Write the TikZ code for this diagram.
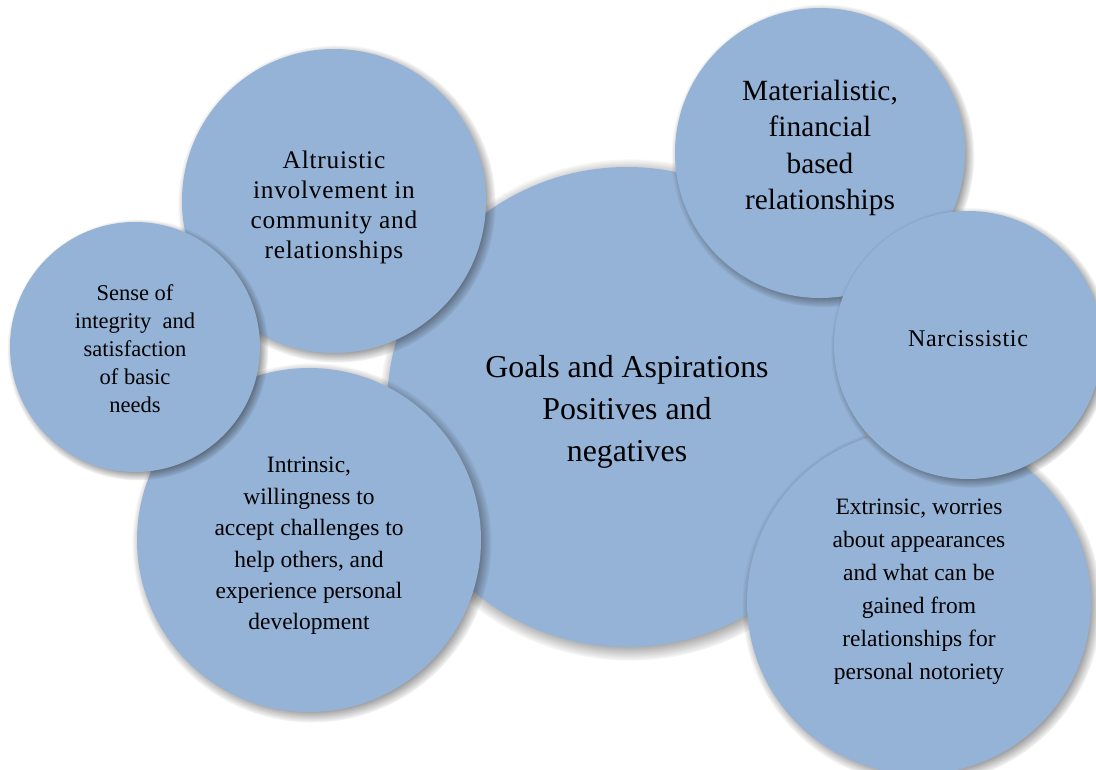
\documentclass[tikz,border=0pt]{standalone}
\usepackage{fontspec}
\setmainfont{Liberation Serif}
\usetikzlibrary{shadows}
\definecolor{bubbleblue}{RGB}{149,179,215}
\tikzset{
  bubble/.style={circle, fill=bubbleblue, inner sep=0pt, minimum size=#1*1.5pt,
    circular drop shadow={shadow xshift=2pt, shadow yshift=-2pt, shadow scale=1.045, opacity=0.95, fill=black!85}},
  bubbletext/.style={align=center, text=black, inner sep=0pt},
  bigtext/.style={bubbletext, font=\fontsize{23.9}{31.5}\selectfont},
  midtext/.style={bubbletext, font=\fontsize{22}{27.4}\selectfont},
  smalltext/.style={bubbletext, font=\fontsize{17.6}{#1}\selectfont},
}
\begin{document}
\begin{tikzpicture}[x=0.75pt, y=-0.75pt]
  \useasboundingbox (0,0) rectangle (1096,769);
  \clip (0,0) rectangle (1096,769);

  % centre bubble
  \node[bubble=240, label={[bigtext, yshift=-3.75pt]center:Goals and Aspirations\\Positives and\\negatives}] (goals) at (627,407) {};

  % right-hand bubbles
  \node[bubble=145, label={[midtext, yshift=3.75pt]center:Materialistic,\\financial\\based\\relationships}] (materialistic) at (820,153) {};
  \node[bubble=172, label={[smalltext=24.75, yshift=7.5pt]center:Extrinsic, worries\\about appearances\\and what can be\\gained from\\relationships for\\personal notoriety}] (extrinsic) at (919,602) {};
  \node[bubble=134, label={[bubbletext, font=\fontsize{18}{22}\selectfont\addfontfeature{LetterSpace=3}, yshift=5pt]center:Narcissistic}] (narcissistic) at (968,345) {};

  % left-hand bubbles
  \node[bubble=152, label={[bubbletext, font=\fontsize{19}{22.5}\selectfont\addfontfeature{LetterSpace=3}, yshift=-5pt]center:Altruistic\\involvement in\\community and\\relationships}] (altruistic) at (334,201) {};
  \node[bubble=172, label={[smalltext=23.6, yshift=-4.5pt]center:Intrinsic,\\willingness to\\accept challenges to\\help others, and\\experience personal\\development}] (intrinsic) at (309,540) {};
  \node[bubble=125, label={[bubbletext, font=\fontsize{16.9}{21}\selectfont, yshift=-1.5pt]center:Sense of\\integrity \ and\\satisfaction\\of basic\\needs}] (sense) at (135,347) {};
\end{tikzpicture}
\end{document}
